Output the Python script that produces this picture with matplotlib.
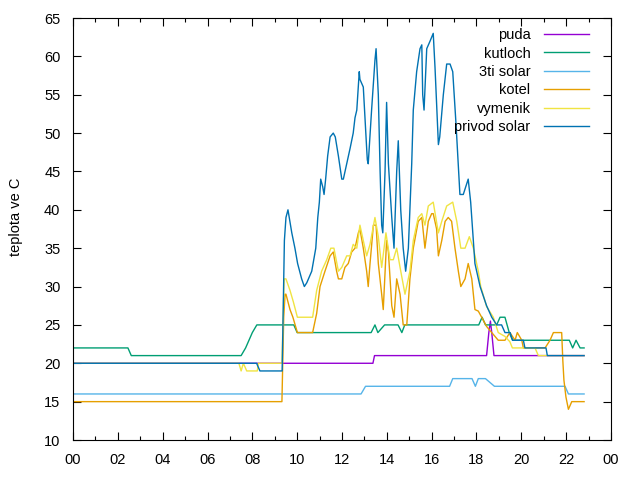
import matplotlib
matplotlib.use("Agg")
import matplotlib.pyplot as plt
from matplotlib.ticker import MultipleLocator, FuncFormatter

plt.rcParams["font.family"] = ["Liberation Sans", "DejaVu Sans"]

# cas v hodinach, teplota ve C
puda_t = [0, 13.38, 13.45, 18.45, 18.50, 18.55, 18.62, 18.68, 18.73, 18.78, 22.80]
puda_v = [20, 20, 21, 21, 22.5, 24, 25.5, 24, 22.5, 21, 21]

kutloch_t = [0, 2.45, 2.60, 7.50, 7.70, 7.85, 8.00, 8.20, 9.85, 10.00, 13.30, 13.47,
             13.60, 13.90, 14.50, 14.67, 14.80, 18.10, 18.25, 18.40, 18.90, 19.05,
             19.27, 19.46, 19.61, 22.14, 22.29, 22.44, 22.62, 22.80]
kutloch_v = [22, 22, 21, 21, 22, 23, 24, 25, 25, 24, 24, 25,
             24, 25, 25, 24, 25, 25, 26, 25, 25, 26,
             26, 24, 23, 23, 22, 23, 22, 22]

solar3_t = [0, 12.85, 13.05, 16.80, 16.94, 17.80, 17.95, 18.08, 18.40, 18.80,
            21.95, 22.10, 22.80]
solar3_v = [16, 16, 17, 17, 18, 18, 17, 18, 18, 17, 17, 16, 16]

kotel_t = [0, 9.32, 9.40, 9.46, 9.50, 9.68, 9.81, 10.01, 10.69, 10.87, 11.02, 11.24,
           11.47, 11.61, 11.76, 11.84, 11.99, 12.13, 12.28, 12.43, 12.58, 12.73,
           12.80, 12.95, 13.10, 13.17, 13.25, 13.40, 13.52, 13.62, 13.77, 13.84,
           13.99, 14.07, 14.22, 14.32, 14.44, 14.59, 14.73, 14.89, 15.03, 15.18,
           15.40, 15.56, 15.70, 15.85, 16.00, 16.07, 16.22, 16.30, 16.45, 16.60,
           16.74, 16.89, 17.04, 17.19, 17.30, 17.49, 17.63, 17.79, 17.93, 18.08,
           18.23, 18.45, 18.68, 18.97, 19.27, 19.49, 19.72, 19.82, 20.02, 20.09,
           21.06, 21.28, 21.43, 21.80, 21.85, 21.90, 21.99, 22.10, 22.25, 22.80]
kotel_v = [15, 15, 26, 29, 29, 27, 26, 24, 24, 26.5, 30, 32,
           34, 34.5, 32, 31, 31, 32.5, 33, 34.5, 35, 37,
           37.5, 35, 32, 30, 33, 38, 38, 33, 29, 27,
           36, 34.5, 27.5, 26, 31, 29, 25, 25, 31, 35,
           38.5, 39, 35, 38.5, 39.5, 39.5, 37.5, 34, 36, 38.5,
           39, 38.5, 35, 32, 30, 31, 33, 31, 27, 26.8,
           26, 24.8, 24, 23, 23, 24, 23, 24, 23, 22,
           22, 23, 24, 24, 20.4, 17.8, 15.6, 14, 15, 15]

vymenik_t = [0, 7.40, 7.50, 7.60, 7.75, 8.22, 8.27, 9.32, 9.42, 9.50, 9.68, 9.83,
             10.01, 10.69, 10.87, 11.09, 11.32, 11.50, 11.64, 11.84, 11.99, 12.21,
             12.36, 12.50, 12.66, 12.80, 12.95, 13.10, 13.25, 13.47, 13.62, 13.77,
             13.96, 14.14, 14.29, 14.44, 14.59, 14.81, 15.03, 15.18, 15.40, 15.56,
             15.70, 15.85, 16.07, 16.30, 16.45, 16.67, 16.94, 17.12, 17.30, 17.49,
             17.68, 17.86, 18.08, 18.19, 18.45, 18.75, 18.97, 19.27, 19.49, 19.60,
             20.61, 20.76, 22.80]
vymenik_v = [20, 20, 19, 20, 19, 19, 20, 20, 31, 31, 29.5, 28,
             26, 26, 29.5, 32, 33.5, 35, 35, 32, 32.5, 34,
             34, 35.5, 35, 38, 36, 34, 35.5, 39, 36.5, 32.5,
             37, 33.5, 33.5, 35, 32.5, 29, 32, 36, 39, 39.5,
             38, 40.5, 41, 37, 38.5, 40.5, 41, 38.5, 35, 35,
             36.5, 35, 32, 30, 27.4, 26, 24, 23.5, 22.8, 22,
             22, 21, 21]

privod_t = [0, 8.19, 8.34, 9.33, 9.43, 9.50, 9.59, 9.76, 9.90, 10.02, 10.20, 10.32,
            10.43, 10.65, 10.83, 10.92, 10.99, 11.05, 11.14, 11.20, 11.27, 11.36,
            11.47, 11.61, 11.70, 11.84, 11.99, 12.06, 12.21, 12.36, 12.50, 12.58,
            12.66, 12.77, 12.80, 12.95, 13.10, 13.13, 13.17, 13.32, 13.47, 13.52,
            13.62, 13.70, 13.77, 13.82, 13.92, 13.99, 14.07, 14.22, 14.32, 14.44,
            14.51, 14.62, 14.73, 14.84, 14.96, 15.11, 15.18, 15.33, 15.48, 15.56,
            15.60, 15.66, 15.78, 15.93, 16.07, 16.15, 16.30, 16.36, 16.52, 16.67,
            16.82, 16.94, 17.09, 17.26, 17.41, 17.63, 17.74, 17.93, 18.16, 18.45,
            18.68, 18.90, 19.12, 19.27, 19.50, 19.61, 20.09, 20.16, 21.10, 21.16,
            22.80]
privod_v = [20, 20, 19, 19, 36, 39, 40, 37, 35, 33, 31, 30,
            30.5, 32, 35, 39, 41, 44, 43, 42, 44, 47,
            49.5, 50, 49.5, 47, 44, 44, 46, 48, 50, 52,
            53, 58, 57, 56, 48, 46.5, 46, 53, 59.5, 61,
            55, 45, 38, 37, 45, 54, 46, 39, 35, 45,
            49, 40, 35, 32, 35, 46, 53, 58, 61, 61.5,
            55, 53, 61, 62, 63, 58.5, 48.5, 49.5, 55, 59,
            59, 58, 51, 42, 42, 44, 41, 33, 30, 27.5,
            26, 25, 25, 24, 24, 23, 23, 22, 22, 21,
            21]

series = [
    ("puda", puda_t, puda_v, "#9400d3"),
    ("kutloch", kutloch_t, kutloch_v, "#009e73"),
    ("3ti solar", solar3_t, solar3_v, "#56b4e9"),
    ("kotel", kotel_t, kotel_v, "#e69f00"),
    ("vymenik", vymenik_t, vymenik_v, "#f0e442"),
    ("privod solar", privod_t, privod_v, "#0072b2"),
]

fig = plt.figure(figsize=(6.4, 4.8), dpi=100)
ax = fig.add_axes([73 / 640, 40 / 480, 538 / 640, 422 / 480])

for name, t, v, col in series:
    ax.plot(t, v, color=col, lw=1.0, label=name)

ax.set_xlim(0, 24)
ax.set_ylim(10, 65)
ax.xaxis.set_major_locator(MultipleLocator(2))
ax.xaxis.set_minor_locator(MultipleLocator(1))
ax.yaxis.set_major_locator(MultipleLocator(5))
ax.xaxis.set_major_formatter(FuncFormatter(lambda x, pos: f"{int(round(x)) % 24:02d}"))
ax.tick_params(which="both", direction="in", top=True, right=True,
               labelsize=10.5, width=0.8)
ax.tick_params(which="major", length=6)
ax.tick_params(which="minor", length=3)
ax.tick_params(axis="y", pad=9)
ax.tick_params(axis="x", pad=9)
for s in ax.spines.values():
    s.set_linewidth(0.8)

ax.set_ylabel("teplota ve C", fontsize=10.5, labelpad=15)
ax.yaxis.label.set_y(0.53)

ax.legend(loc="upper right", frameon=False, markerfirst=False, fontsize=10.5,
          handlelength=3.1, handletextpad=0.9, labelspacing=0.3,
          borderaxespad=0.3, bbox_to_anchor=(0.978, 1.0))

fig.savefig("out.png", dpi=100)
